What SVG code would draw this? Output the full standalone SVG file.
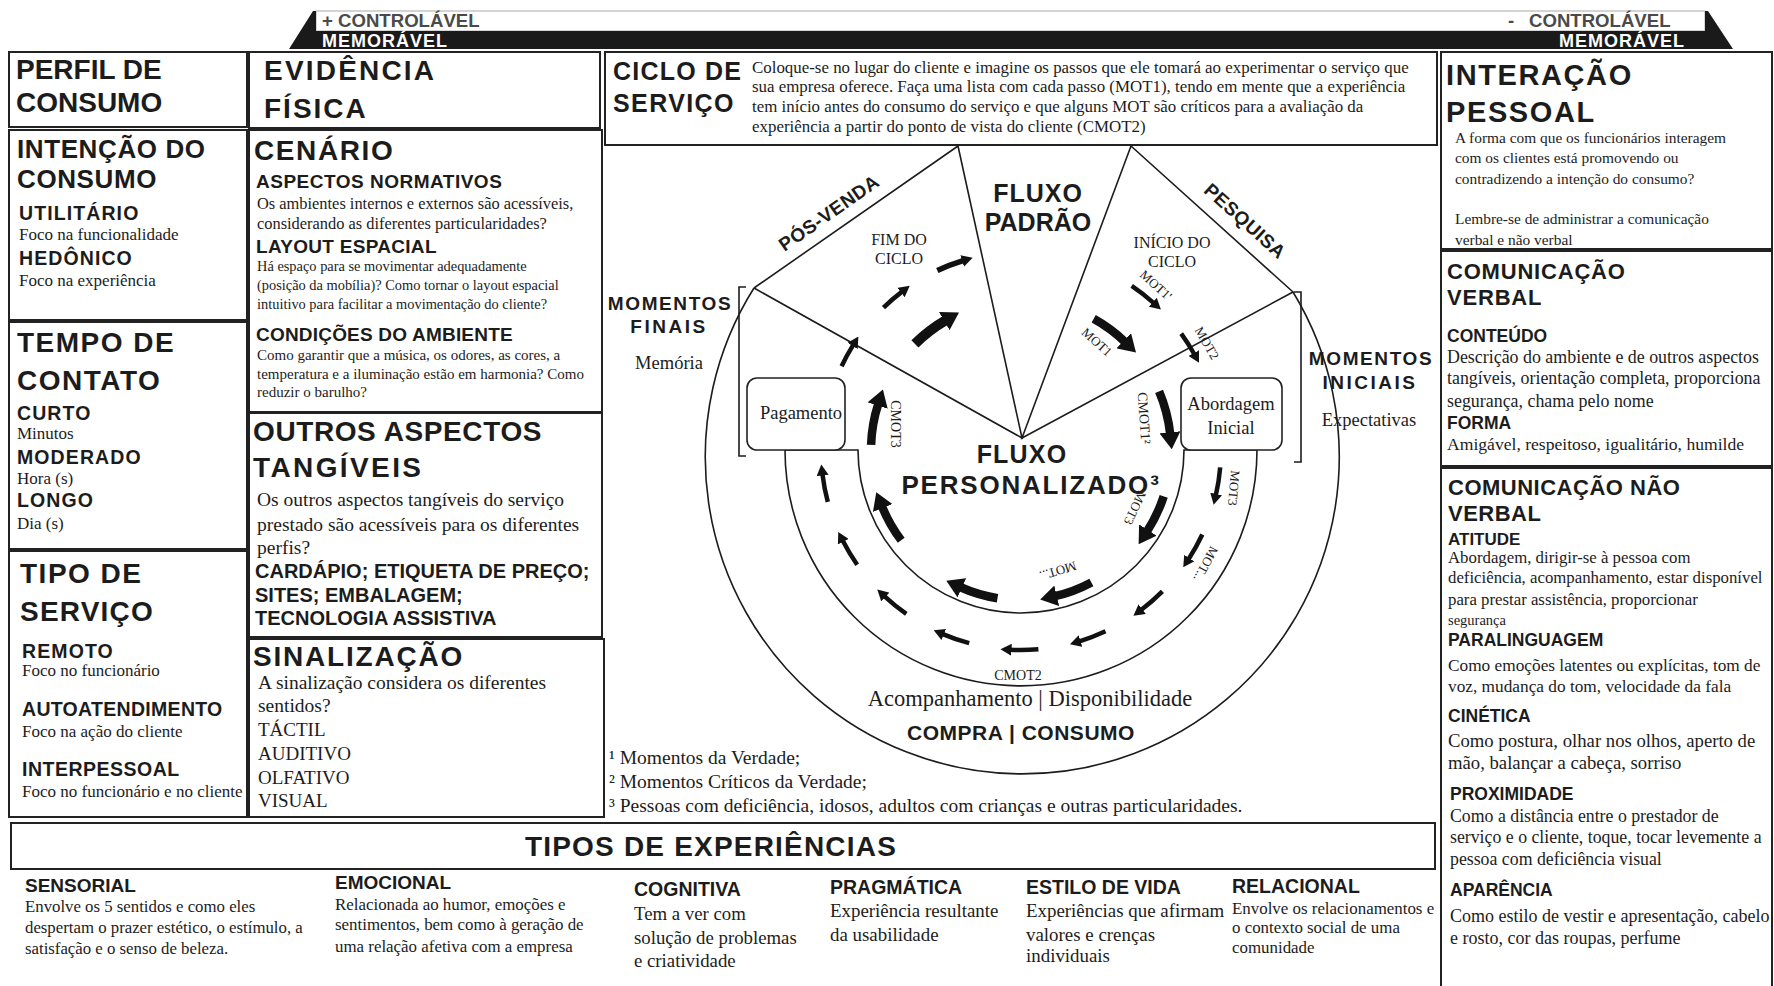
<svg xmlns="http://www.w3.org/2000/svg" width="1774" height="986" viewBox="0 0 1774 986">
<defs>
<style>
.b{font-family:"Liberation Sans",Arial,sans-serif;font-weight:bold;fill:#1c1c1c}
.s{font-family:"Liberation Serif","Times New Roman",serif;fill:#1c1c1c}
.bx{fill:#fff;stroke:#222;stroke-width:2}
.ln{fill:none;stroke:#1c1c1c;stroke-width:1.6}
.at{fill:none;stroke:#111;stroke-width:8.5;marker-end:url(#hT)}
.an{fill:none;stroke:#111;stroke-width:4.5;marker-end:url(#hN)}
.c{text-anchor:middle}
.h1{font-size:28px}
.h2{font-size:19.5px;letter-spacing:1.1px}
.p16{font-size:17px}
</style>
<marker id="hT" markerUnits="userSpaceOnUse" markerWidth="17" markerHeight="21" refX="2" refY="10.5" orient="auto"><path d="M0,0 L17,10.5 L0,21 Z" fill="#111"/></marker>
<marker id="hN" markerUnits="userSpaceOnUse" markerWidth="11" markerHeight="12" refX="1" refY="6" orient="auto"><path d="M0,0 L11,6 L0,12 Z" fill="#111"/></marker>
</defs>
<rect width="1774" height="986" fill="#fff"/>

<g id="top-bar">
<rect x="316" y="11" width="1389" height="20" fill="#fff" stroke="#aaa" stroke-width="1"/>
<path d="M289,49 L313,11 L316,11 L316,31 L1705,31 L1705,11 L1708,11 L1733,49 Z" fill="#1a1a1a"/>
<text class="b" x="322" y="27" font-size="18.6" style="fill:#4a4a4a">+ CONTROLÁVEL</text>
<text class="b" x="322" y="47" font-size="18" letter-spacing="1" style="fill:#fff">MEMORÁVEL</text>
<text class="b" x="1508" y="27" font-size="18.6" style="fill:#4a4a4a">-</text>
<text class="b" x="1529" y="27" font-size="18.6" style="fill:#4a4a4a">CONTROLÁVEL</text>
<text class="b" x="1559" y="47" font-size="18" letter-spacing="1" style="fill:#fff">MEMORÁVEL</text>
</g>

<g id="perfil-consumo">
<rect class="bx" x="9" y="52" width="238" height="75"/>
<text class="b h1" x="16" y="79">PERFIL DE</text>
<text class="b h1" x="16" y="112">CONSUMO</text>
</g>

<g id="intencao-consumo">
<rect class="bx" x="9" y="130" width="238" height="190"/>
<text class="b" x="17" y="158" font-size="26" letter-spacing="0.6">INTENÇÃO DO</text>
<text class="b" x="17" y="188" font-size="26" letter-spacing="0.6">CONSUMO</text>
<text class="b h2" x="19" y="220">UTILITÁRIO</text>
<text class="s p16" x="19" y="240">Foco na funcionalidade</text>
<text class="b h2" x="19" y="265">HEDÔNICO</text>
<text class="s p16" x="19" y="286">Foco na experiência</text>
</g>

<g id="tempo-contato">
<rect class="bx" x="9" y="322" width="238" height="227"/>
<text class="b h1" x="17" y="352" letter-spacing="1.5">TEMPO DE</text>
<text class="b h1" x="17" y="390" letter-spacing="1.5">CONTATO</text>
<text class="b h2" x="17" y="420">CURTO</text>
<text class="s p16" x="17" y="439">Minutos</text>
<text class="b h2" x="17" y="464">MODERADO</text>
<text class="s p16" x="17" y="484">Hora (s)</text>
<text class="b h2" x="17" y="507">LONGO</text>
<text class="s p16" x="17" y="529">Dia (s)</text>
</g>

<g id="tipo-servico">
<rect class="bx" x="9" y="551" width="238" height="266"/>
<text class="b h1" x="20" y="583" letter-spacing="1.5">TIPO DE</text>
<text class="b h1" x="20" y="621" letter-spacing="1.2">SERVIÇO</text>
<text class="b h2" x="22" y="658">REMOTO</text>
<text class="s p16" x="22" y="676">Foco no funcionário</text>
<text class="b h2" x="22" y="716" style="letter-spacing:0.3px">AUTOATENDIMENTO</text>
<text class="s p16" x="22" y="737">Foco na ação do cliente</text>
<text class="b h2" x="22" y="776" style="letter-spacing:0.5px">INTERPESSOAL</text>
<text class="s p16" x="22" y="797">Foco no funcionário e no cliente</text>
</g>

<g id="evidencia-fisica">
<rect class="bx" x="249" y="52" width="351" height="76"/>
<text class="b h1" x="264" y="80" letter-spacing="2.2">EVIDÊNCIA</text>
<text class="b h1" x="264" y="118" letter-spacing="2">FÍSICA</text>
</g>

<g id="cenario">
<rect class="bx" x="249" y="130" width="353" height="282"/>
<text class="b h1" x="254" y="160" letter-spacing="1.6">CENÁRIO</text>
<text class="b" x="256" y="188" font-size="19" letter-spacing="0.5">ASPECTOS NORMATIVOS</text>
<text class="s" x="257" y="209" font-size="16.4">Os ambientes internos e externos são acessíveis,</text>
<text class="s" x="257" y="229" font-size="16.4">considerando as diferentes particularidades?</text>
<text class="b" x="256" y="253" font-size="19" letter-spacing="0.3">LAYOUT ESPACIAL</text>
<text class="s" x="257" y="271" font-size="14.4">Há espaço para se movimentar adequadamente</text>
<text class="s" x="257" y="290" font-size="14.4">(posição da mobília)? Como tornar o layout espacial</text>
<text class="s" x="257" y="309" font-size="14.4">intuitivo para facilitar a movimentação do cliente?</text>
<text class="b" x="256" y="341" font-size="19" letter-spacing="0.2">CONDIÇÕES DO AMBIENTE</text>
<text class="s" x="257" y="360" font-size="15">Como garantir que a música, os odores, as cores, a</text>
<text class="s" x="257" y="379" font-size="15">temperatura e a iluminação estão em harmonia? Como</text>
<text class="s" x="257" y="397" font-size="15">reduzir o barulho?</text>
</g>

<g id="outros-aspectos">
<rect class="bx" x="249" y="413" width="353" height="224"/>
<text class="b h1" x="253" y="441" letter-spacing="0.6">OUTROS ASPECTOS</text>
<text class="b h1" x="253" y="477" letter-spacing="2.4">TANGÍVEIS</text>
<text class="s" x="257" y="506" font-size="19.5">Os outros aspectos tangíveis do serviço</text>
<text class="s" x="257" y="531" font-size="19.5">prestado são acessíveis para os diferentes</text>
<text class="s" x="257" y="554" font-size="19.5">perfis?</text>
<text class="b" x="255" y="578" font-size="20">CARDÁPIO; ETIQUETA DE PREÇO;</text>
<text class="b" x="255" y="602" font-size="20">SITES; EMBALAGEM;</text>
<text class="b" x="255" y="625" font-size="20">TECNOLOGIA ASSISTIVA</text>
</g>

<g id="sinalizacao">
<rect class="bx" x="249" y="639" width="355" height="178"/>
<text class="b h1" x="253" y="666" letter-spacing="1.8">SINALIZAÇÃO</text>
<text class="s" x="258" y="689" font-size="19.5">A sinalização considera os diferentes</text>
<text class="s" x="258" y="712" font-size="19.5">sentidos?</text>
<text class="s" x="258" y="736" font-size="19">TÁCTIL</text>
<text class="s" x="258" y="760" font-size="19">AUDITIVO</text>
<text class="s" x="258" y="784" font-size="19">OLFATIVO</text>
<text class="s" x="258" y="807" font-size="19">VISUAL</text>
</g>

<g id="ciclo-servico">
<rect class="bx" x="605" y="52" width="832" height="93"/>
<text class="b" x="613" y="80" font-size="25" letter-spacing="1.2">CICLO DE</text>
<text class="b" x="613" y="112" font-size="25" letter-spacing="1.4">SERVIÇO</text>
<text class="s" x="752" y="73" font-size="16.9">Coloque-se no lugar do cliente e imagine os passos que ele tomará ao experimentar o serviço que</text>
<text class="s" x="752" y="92" font-size="16.9">sua empresa oferece. Faça uma lista com cada passo (MOT1), tendo em mente que a experiência</text>
<text class="s" x="752" y="112" font-size="16.9">tem início antes do consumo do serviço e que alguns MOT são críticos para a avaliação da</text>
<text class="s" x="752" y="132" font-size="16.9">experiência a partir do ponto de vista do cliente (CMOT2)</text>
</g>

<g id="interacao-pessoal">
<rect class="bx" x="1441" y="52" width="331" height="197"/>
<text class="b" x="1446" y="85" font-size="29" letter-spacing="1.6">INTERAÇÃO</text>
<text class="b" x="1446" y="122" font-size="29" letter-spacing="1.6">PESSOAL</text>
<text class="s" x="1455" y="143" font-size="15.4">A forma com que os funcionários interagem</text>
<text class="s" x="1455" y="163" font-size="15.4">com os clientes está promovendo ou</text>
<text class="s" x="1455" y="184" font-size="15.4">contradizendo a intenção do consumo?</text>
<text class="s" x="1455" y="224" font-size="15.4">Lembre-se de administrar a comunicação</text>
<text class="s" x="1455" y="245" font-size="15.4">verbal e não verbal</text>
</g>

<g id="comunicacao-verbal">
<rect class="bx" x="1441" y="251" width="331" height="215"/>
<text class="b" x="1447" y="279" font-size="22" letter-spacing="0.8">COMUNICAÇÃO</text>
<text class="b" x="1447" y="305" font-size="22" letter-spacing="0.8">VERBAL</text>
<text class="b" x="1447" y="342" font-size="17.5">CONTEÚDO</text>
<text class="s" x="1447" y="363" font-size="17.9">Descrição do ambiente e de outros aspectos</text>
<text class="s" x="1447" y="384" font-size="17.9">tangíveis, orientação completa, proporciona</text>
<text class="s" x="1447" y="407" font-size="17.9">segurança, chama pelo nome</text>
<text class="b" x="1447" y="429" font-size="17.5">FORMA</text>
<text class="s" x="1447" y="450" font-size="17.6">Amigável, respeitoso, igualitário, humilde</text>
</g>

<g id="comunicacao-nao-verbal">
<rect class="bx" x="1441" y="468" width="331" height="530"/>
<text class="b" x="1448" y="495" font-size="22" letter-spacing="0.5">COMUNICAÇÃO NÃO</text>
<text class="b" x="1448" y="521" font-size="22" letter-spacing="0.5">VERBAL</text>
<text class="b" x="1448" y="545" font-size="17">ATITUDE</text>
<text class="s" x="1448" y="563" font-size="16.8">Abordagem, dirigir-se à pessoa com</text>
<text class="s" x="1448" y="583" font-size="16.8">deficiência, acompanhamento, estar disponível</text>
<text class="s" x="1448" y="605" font-size="16.8">para prestar assistência, proporcionar</text>
<text class="s" x="1448" y="625" font-size="14.5">segurança</text>
<text class="b" x="1448" y="646" font-size="17.5">PARALINGUAGEM</text>
<text class="s" x="1448" y="671" font-size="17.3">Como emoções latentes ou explícitas, tom de</text>
<text class="s" x="1448" y="692" font-size="17.3">voz, mudança do tom, velocidade da fala</text>
<text class="b" x="1448" y="722" font-size="17.5">CINÉTICA</text>
<text class="s" x="1448" y="747" font-size="18.7">Como postura, olhar nos olhos, aperto de</text>
<text class="s" x="1448" y="769" font-size="18.7">mão, balançar a cabeça, sorriso</text>
<text class="b" x="1450" y="800" font-size="17.5">PROXIMIDADE</text>
<text class="s" x="1450" y="822" font-size="17.8">Como a distância entre o prestador de</text>
<text class="s" x="1450" y="843" font-size="17.8">serviço e o cliente, toque, tocar levemente a</text>
<text class="s" x="1450" y="865" font-size="17.8">pessoa com deficiência visual</text>
<text class="b" x="1450" y="896" font-size="17.5">APARÊNCIA</text>
<text class="s" x="1450" y="922" font-size="18">Como estilo de vestir e apresentação, cabelo</text>
<text class="s" x="1450" y="944" font-size="18">e rosto, cor das roupas, perfume</text>
</g>

<g id="tipos-experiencias">
<rect class="bx" x="11" y="823" width="1424" height="46"/>
<text class="b c" x="711" y="856" font-size="28" letter-spacing="1.2">TIPOS DE EXPERIÊNCIAS</text>
</g>
<g id="exp-sensorial">
<text class="b" x="25" y="892" font-size="19">SENSORIAL</text>
<text class="s" x="25" y="912" font-size="16.8">Envolve os 5 sentidos e como eles</text>
<text class="s" x="25" y="933" font-size="16.8">despertam o prazer estético, o estímulo, a</text>
<text class="s" x="25" y="954" font-size="16.8">satisfação e o senso de beleza.</text>
</g>
<g id="exp-emocional">
<text class="b" x="335" y="889" font-size="19">EMOCIONAL</text>
<text class="s" x="335" y="910" font-size="16.9">Relacionada ao humor, emoções e</text>
<text class="s" x="335" y="930" font-size="16.9">sentimentos, bem como à geração de</text>
<text class="s" x="335" y="952" font-size="16.9">uma relação afetiva com a empresa</text>
</g>
<g id="exp-cognitiva">
<text class="b" x="634" y="896" font-size="19.5">COGNITIVA</text>
<text class="s" x="634" y="920" font-size="18.8">Tem a ver com</text>
<text class="s" x="634" y="944" font-size="18.8">solução de problemas</text>
<text class="s" x="634" y="967" font-size="18.8">e criatividade</text>
</g>
<g id="exp-pragmatica">
<text class="b" x="830" y="894" font-size="19.5">PRAGMÁTICA</text>
<text class="s" x="830" y="917" font-size="18.9">Experiência resultante</text>
<text class="s" x="830" y="941" font-size="18.9">da usabilidade</text>
</g>
<g id="exp-estilo-vida">
<text class="b" x="1026" y="894" font-size="19.5">ESTILO DE VIDA</text>
<text class="s" x="1026" y="917" font-size="18.9">Experiências que afirmam</text>
<text class="s" x="1026" y="941" font-size="18.9">valores e crenças</text>
<text class="s" x="1026" y="962" font-size="18.9">individuais</text>
</g>
<g id="exp-relacional">
<text class="b" x="1232" y="893" font-size="19.5">RELACIONAL</text>
<text class="s" x="1232" y="914" font-size="16.9">Envolve os relacionamentos e</text>
<text class="s" x="1232" y="933" font-size="16.9">o contexto social de uma</text>
<text class="s" x="1232" y="953" font-size="16.9">comunidade</text>
</g>

<g id="ciclo-diagrama">
<path class="ln" d="M754,288 A317,317 0 1 0 1293,292"/>
<path class="ln" d="M754,288 L958,146 M754,288 L1022,438 L958,146 M1131,146 L1022,438 L1293,292 L1131,146"/>
<path class="ln" d="M746,287 L739,287 L739,456 L746,456 M1294,292 L1301,292 L1301,462 L1294,462"/>
<path class="ln" d="M785,450 A236,236 0 0 0 1257,450 L1184,450 A163,163 0 0 1 858,450 Z"/>
<text class="b" transform="translate(829,213) rotate(-35)" text-anchor="middle" dominant-baseline="central" font-size="19" letter-spacing="0.5">PÓS-VENDA</text>
<text class="b" transform="translate(1245,221) rotate(42)" text-anchor="middle" dominant-baseline="central" font-size="19" letter-spacing="0.5">PESQUISA</text>
<text class="b c" x="1038" y="202" font-size="25" letter-spacing="1">FLUXO</text>
<text class="b c" x="1038" y="231" font-size="25">PADRÃO</text>
<text class="s c" x="899" y="245" font-size="16">FIM DO</text>
<text class="s c" x="899" y="264" font-size="16">CICLO</text>
<text class="s c" x="1172" y="248" font-size="16">INÍCIO DO</text>
<text class="s c" x="1172" y="267" font-size="16">CICLO</text>
<text class="b c" x="670" y="310" font-size="19" letter-spacing="1.6">MOMENTOS</text>
<text class="b c" x="669" y="333" font-size="19" letter-spacing="2.5">FINAIS</text>
<text class="s c" x="669" y="369" font-size="18.5">Memória</text>
<text class="b c" x="1371" y="365" font-size="19" letter-spacing="1.6">MOMENTOS</text>
<text class="b c" x="1370" y="389" font-size="19" letter-spacing="2.5">INICIAIS</text>
<text class="s c" x="1369" y="426" font-size="18.5">Expectativas</text>
<text class="b c" x="1022" y="463" font-size="25" letter-spacing="1.2">FLUXO</text>
<text class="b c" x="1031" y="494" font-size="26" letter-spacing="1.8">PERSONALIZADO³</text>
<text class="s c" x="1018" y="680" font-size="14">CMOT2</text>
<text class="s c" x="1030" y="706" font-size="22.5">Acompanhamento | Disponibilidade</text>
<text class="b c" x="1021" y="740" font-size="21" letter-spacing="0.5">COMPRA | CONSUMO</text>
</g>

<g id="pagamento">
<rect x="747" y="378" width="98" height="72" rx="10" fill="#fff" stroke="#222" stroke-width="1.6"/>
<text class="s c" x="801" y="419" font-size="18.5">Pagamento</text>
</g>
<g id="abordagem-inicial">
<rect x="1181" y="378" width="101" height="72" rx="10" fill="#fff" stroke="#222" stroke-width="1.6"/>
<text class="s c" x="1231" y="410" font-size="18.5">Abordagem</text>
<text class="s c" x="1231" y="434" font-size="18.5">Inicial</text>
</g>

<g id="connectors">
<path class="an" d="M1220.2,467.4 A200,200 0 0 1 1215.9,495.0"/>
<path class="an" d="M1202.3,534.5 A200,200 0 0 1 1188.7,558.9"/>
<path class="an" d="M1162.4,591.4 A200,200 0 0 1 1141.4,609.7"/>
<path class="an" d="M1105.5,631.3 A200,200 0 0 1 1079.5,641.3"/>
<path class="an" d="M1038.4,649.2 A200,200 0 0 1 1010.5,649.7"/>
<path class="an" d="M969.2,643.2 A200,200 0 0 1 942.9,634.1"/>
<path class="an" d="M906.3,613.8 A200,200 0 0 1 884.6,596.3"/>
<path class="an" d="M857.2,564.7 A200,200 0 0 1 842.8,540.8"/>
<path class="an" d="M827.8,501.8 A200,200 0 0 1 822.5,474.4"/>
<path class="an" d="M841.6,366.3 A198,198 0 0 1 853.1,345.1"/>
<path class="an" d="M883.5,307.6 A198,198 0 0 1 901.8,291.9"/>
<path class="an" d="M937.3,270.6 A198,198 0 0 1 963.1,260.7" style="stroke-width:5.5"/>
<path class="an" d="M1131.7,285.9 A198,198 0 0 1 1153.5,302.9"/>
<path class="an" d="M1181.2,333.6 A198,198 0 0 1 1194.2,354.0"/>
<path class="at" d="M1093.7,318.8 A150,150 0 0 1 1125.2,342.1"/>
<path class="at" d="M1159.1,391.4 A150,150 0 0 1 1170.2,434.3"/>
<path class="at" d="M1163.7,496.4 A150,150 0 0 1 1146.8,531.7"/>
<path class="at" d="M1091.4,582.4 A150,150 0 0 1 1054.8,596.2"/>
<path class="at" d="M997.5,598.2 A150,150 0 0 1 960.0,587.0"/>
<path class="at" d="M901.2,540.3 A150,150 0 0 1 881.9,506.2"/>
<path class="at" d="M871.1,444.8 A150,150 0 0 1 878.3,403.7"/>
<path class="at" d="M914.9,343.9 A150,150 0 0 1 946.0,320.1" style="stroke-width:10"/>
<text class="s" transform="translate(1156,285) rotate(42)" text-anchor="middle" dominant-baseline="central" font-size="13">MOT1'</text>
<text class="s" transform="translate(1097,342) rotate(42)" text-anchor="middle" dominant-baseline="central" font-size="13">MOT1</text>
<text class="s" transform="translate(1207,343) rotate(60)" text-anchor="middle" dominant-baseline="central" font-size="13">MOT2</text>
<text class="s" transform="translate(1144,418) rotate(86)" text-anchor="middle" dominant-baseline="central" font-size="14">CMOT1²</text>
<text class="s" transform="translate(1234,488) rotate(95)" text-anchor="middle" dominant-baseline="central" font-size="13">MOT3</text>
<text class="s" transform="translate(1206,564) rotate(118)" text-anchor="middle" dominant-baseline="central" font-size="13">MOT...</text>
<text class="s" transform="translate(1135,508) rotate(115)" text-anchor="middle" dominant-baseline="central" font-size="13">MOT3</text>
<text class="s" transform="translate(1058,571) rotate(163)" text-anchor="middle" dominant-baseline="central" font-size="13">MOT...</text>
<text class="s" transform="translate(895,424) rotate(90)" text-anchor="middle" dominant-baseline="central" font-size="14">CMOT3</text>
</g>

<g id="notas">
<text class="s" x="609" y="764" font-size="19.5">¹ Momentos da Verdade;</text>
<text class="s" x="609" y="788" font-size="19.5">² Momentos Críticos da Verdade;</text>
<text class="s" x="609" y="812" font-size="19.5">³ Pessoas com deficiência, idosos, adultos com crianças e outras particularidades.</text>
</g>
</svg>
